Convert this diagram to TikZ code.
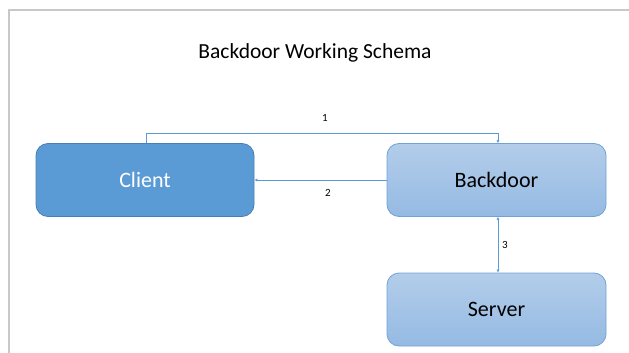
\documentclass[tikz,border=0pt]{standalone}
\usepackage{fontspec}
\setmainfont{Carlito}
\usetikzlibrary{arrows.meta}
\definecolor{darkfill}{HTML}{5B9BD5}
\definecolor{darkborder}{HTML}{4A7FB5}
\definecolor{lighttop}{HTML}{B3CDEA}
\definecolor{lightbot}{HTML}{95BAE3}
\definecolor{lightborder}{HTML}{6FA3D8}
\definecolor{conn}{HTML}{5B9BD5}
\definecolor{framegray}{HTML}{C8C8C8}
\tikzset{
  darkbox/.style={draw=darkborder, fill=darkfill, line width=0.8pt, rounded corners=12pt,
    minimum width=218pt, minimum height=73pt, inner sep=0pt, text=white, font=\fontsize{22}{26}\selectfont},
  lightbox/.style={draw=lightborder, top color=lighttop, bottom color=lightbot, line width=0.8pt, rounded corners=12pt,
    minimum width=219pt, minimum height=73pt, inner sep=0pt, text=black, font=\fontsize{22}{26}\selectfont},
  link/.style={draw=conn, line width=0.9pt},
  tip/.style={-{Latex[length=3pt,width=3pt]}},
  numlabel/.style={font=\fontsize{11}{13}\selectfont, text=black, inner sep=0pt},
}
\begin{document}
\begin{tikzpicture}[x=1pt,y=-1pt]
\useasboundingbox[fill=white] (0,0) rectangle (629,353);
\draw[framegray, line width=1.5pt] (9,360) -- (9,10) -- (640,10);
\node[font=\fontsize{21.5}{25}\selectfont] (title) at (315,52.5) {Backdoor Working Schema};
\node[darkbox] (client) at (145,180) {Client};
\node[lightbox] (backdoor) at (496.5,180) {Backdoor};
\node[lightbox] (server) at (496.5,309.5) {Server};
\coordinate (c1) at (146,133);
\coordinate (c2) at (498,133);
\draw[link, tip] (client.north -| c1) -- (c1) -- (c2) -- (backdoor.north -| c2);
\draw[link, tip] (backdoor.west) -- (client.east);
\draw[link, {Latex[length=3pt,width=3pt]}-{Latex[length=3pt,width=3pt]}] (backdoor.south -| c2) -- (server.north -| c2);
\node[numlabel] (l1) at (325,118) {1};
\node[numlabel] (l2) at (328,193) {2};
\node[numlabel] (l3) at (505,245) {3};
\end{tikzpicture}
\end{document}
